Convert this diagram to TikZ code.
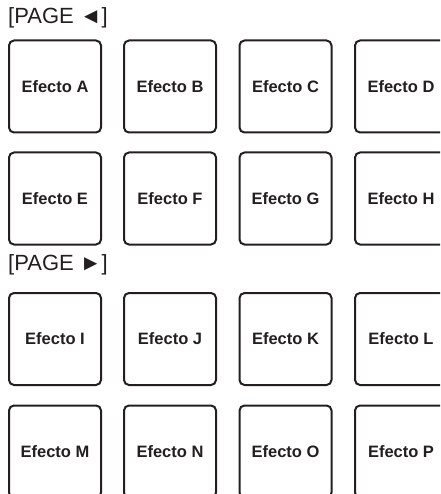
\documentclass[tikz,border=0pt]{standalone}
\usepackage{fontspec}
\setmainfont{Liberation Sans}
\usepackage{tikz}
\definecolor{PadLine}{RGB}{35,31,32}
\definecolor{TxtCol} {RGB}{35,31,32}
\tikzset{
  nd_pad/.style={
    rectangle, rounded corners=5pt,
    draw=PadLine, line width=2pt,
    minimum width=92pt, minimum height=92pt,
    align=center, text=TxtCol,
    font=\fontsize{16.5}{18}\selectfont\bfseries},
  lbl_page/.style={
    anchor=west, inner sep=0pt, text=TxtCol,
    font=\fontsize{22}{24}\selectfont},
}

\begin{document}
\begin{tikzpicture}[x=1pt,y=1pt]

\clip (0,0) rectangle (440,-494);

\def\cA{55}\def\cB{170}\def\cC{285.5}\def\cD{401}
\def\rA{-86.5}\def\rB{-198.5}\def\rC{-339}\def\rD{-451.5}

%% page labels
\node[lbl_page] at (8,-18)  (PgL){[PAGE \raisebox{0.5pt}{◄}]};
\node[lbl_page] at (8,-265) (PgR){[PAGE \raisebox{0.5pt}{►}]};

%% pads
\foreach \y/\row in {\rA/{A,B,C,D},\rB/{E,F,G,H},\rC/{I,J,K,L},\rD/{M,N,O,P}}
  {\foreach \x/\n [count=\i] in \row
    {\ifcase\i\or\def\x{\cA}\or\def\x{\cB}\or\def\x{\cC}\or\def\x{\cD}\fi
     \node[nd_pad] at (\x,\y) (p\n){Efecto \n};}}

\end{tikzpicture}
\end{document}
